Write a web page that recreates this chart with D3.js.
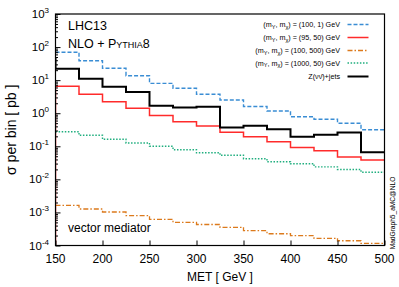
<!DOCTYPE html>
<html><head><meta charset="utf-8">
<script src="https://cdn.jsdelivr.net/npm/d3@7"></script>
<style>
body{margin:0;background:#fff}
svg{display:block}
text{font-family:"Liberation Sans",Arial,Helvetica,sans-serif;fill:#000}
</style>
</head><body>
<svg id="c" width="399" height="287"></svg>
<script>
// ---- data ----
const binEdges = [150,175,200,225,250,275,300,325,350,375,400,425,450,475,500];
const xTickValues = [150,200,250,300,350,400,450,500];
const yTickExponents = [-4,-3,-2,-1,0,1,2,3];
const legendLabels = [
  ["(m", "Y", ", m", "χ", ") = (100, 1) GeV"],
  ["(m", "Y", ", m", "χ", ") = (95, 50) GeV"],
  ["(m", "Y", ", m", "χ", ") = (100, 500) GeV"],
  ["(m", "Y", ", m", "χ", ") = (1000, 50) GeV"],
  ["Z(νν̄)+jets"]
];
const blueVals   = [69.5,38.7,22.8,13.6,8.0,5.66,3.73,2.51,1.60,1.17,0.78,0.655,0.496,0.317];
const redVals    = [6.5,3.76,2.23,1.41,0.853,0.553,0.41,0.267,0.195,0.137,0.092,0.073,0.0474,0.0385];
const orangeVals = [1.64e-3,1.27e-3,1.03e-3,7.96e-4,6.19e-4,5.02e-4,4.31e-4,3.55e-4,2.80e-4,2.27e-4,1.98e-4,1.65e-4,1.39e-4,1.16e-4];
const greenVals  = [0.276,0.215,0.163,0.126,0.0998,0.0788,0.064,0.0534,0.0421,0.0342,0.0297,0.0239,0.0199,0.0164];
const blackVals  = [22.2,11.1,6.3,4.38,1.69,1.49,1.57,0.37,0.416,0.326,0.195,0.224,0.261,0.066];
// value of the bin just below 150 GeV (underflow side of the step), where visible
const blackPrev = 47;
const redPrev = 1e-6;

// ---- layout ----
const svg = d3.select("#c");
const L = 55.5, R = 384.5, T = 14, B = 245.5;
const x = d3.scaleLinear().domain([150,500]).range([L,R]);
const y = d3.scaleLog().domain([1e-4,1e3]).range([B,T]);

svg.append("defs").append("clipPath").attr("id","clip")
  .append("rect").attr("x",L).attr("y",T).attr("width",R-L).attr("height",B-T);

const series = [
  {vals: blueVals,   prev: null,      color:"#3a8dd4", w:1.4, dash:"4,2"},
  {vals: redVals,    prev: redPrev,   color:"#ff2b2b", w:1.5, dash:null},
  {vals: orangeVals, prev: null,      color:"#dc7a1c", w:1.3, dash:"5,2,1.5,2"},
  {vals: greenVals,  prev: null,      color:"#1fae7e", w:1.4, dash:"1.5,1.6"},
  {vals: blackVals,  prev: blackPrev, color:"#000000", w:2.0, dash:null}
];

const line = d3.line().x(d=>x(d[0])).y(d=>y(d[1])).curve(d3.curveStepAfter);
const g = svg.append("g").attr("clip-path","url(#clip)");
series.forEach(s=>{
  const pts = [];
  if (s.prev !== null) pts.push([binEdges[0], s.prev]);
  s.vals.forEach((v,i)=>pts.push([binEdges[i], v]));
  pts.push([binEdges[binEdges.length-1], s.vals[s.vals.length-1]]);
  g.append("path").attr("d", line(pts)).attr("fill","none")
    .attr("stroke", s.color).attr("stroke-width", s.w)
    .attr("stroke-dasharray", s.dash);
});

// ---- axes ----
const yAxis = d3.axisLeft(y).tickValues(yTickExponents.map(e=>Math.pow(10,e)))
  .tickSizeInner(-5).tickSizeOuter(0).tickFormat("");
const yMinor = [];
yTickExponents.slice(0,-1).forEach(e=>{ for(let k=2;k<10;k++) yMinor.push(k*Math.pow(10,e)); });
const yAxisMinor = d3.axisLeft(y).tickValues(yMinor).tickSizeInner(-2.5).tickSizeOuter(0).tickFormat("");
const xAxis = d3.axisBottom(x).tickValues(xTickValues).tickSizeInner(-5).tickSizeOuter(0).tickFormat("");

const ay = svg.append("g").attr("transform",`translate(${L},0)`).call(yAxis);
const aym = svg.append("g").attr("transform",`translate(${L},0)`).call(yAxisMinor);
const ax = svg.append("g").attr("transform",`translate(0,${B})`).call(xAxis);
[ay,aym,ax].forEach(a=>{ a.select(".domain").remove(); a.selectAll("line").attr("stroke","#000").attr("stroke-width",1); });

// frame
svg.append("rect").attr("x",L).attr("y",T).attr("width",R-L).attr("height",B-T)
  .attr("fill","none").attr("stroke","#000").attr("stroke-width",1.2);

// y tick labels
yTickExponents.forEach(e=>{
  const t = svg.append("text").attr("x",49).attr("y",y(Math.pow(10,e))+4)
    .attr("text-anchor","end").style("font-size","11.5px");
  t.append("tspan").text("10");
  t.append("tspan").attr("dy",-5).style("font-size","8px").text(String(e));
});

// x tick labels
xTickValues.forEach(v=>{
  svg.append("text").attr("x",x(v)).attr("y",263).attr("text-anchor","middle")
    .style("font-size","12px").text(v);
});

// axis titles
svg.append("text").attr("x",(L+R)/2).attr("y",281).attr("text-anchor","middle")
  .style("font-size","12px").text("MET [ GeV ]");
svg.append("text").attr("transform",`translate(16,${(T+B)/2}) rotate(-90)`)
  .attr("text-anchor","middle").style("font-size","14px").text("σ per bin [ pb ]");

// annotations
svg.append("text").attr("x",68).attr("y",30).style("font-size","12.5px").text("LHC13");
const nlo = svg.append("text").attr("x",68).attr("y",47.5).style("font-size","12.5px");
nlo.append("tspan").text("NLO + P");
nlo.append("tspan").style("font-size","9px").text("YTHIA");
nlo.append("tspan").text("8");
svg.append("text").attr("x",68).attr("y",232).style("font-size","12px").text("vector mediator");
svg.append("text").attr("transform","translate(394.5,213) rotate(-90)")
  .attr("text-anchor","middle").style("font-size","6.6px").text("MadGraph5_aMC@NLO");

// legend
const legY = [24.5,37.5,50.5,63,76.5];
legendLabels.forEach((parts,i)=>{
  const s = series[i];
  const t = svg.append("text").attr("x",340).attr("y",legY[i]+2.5)
    .attr("text-anchor","end").style("font-size","7.2px");
  if (parts.length===1) { t.text(parts[0]); }
  else {
    t.append("tspan").text(parts[0]);
    t.append("tspan").attr("dy",1.8).style("font-size","5.5px").text(parts[1]);
    t.append("tspan").attr("dy",-1.8).text(parts[2]);
    t.append("tspan").attr("dy",1.8).style("font-size","5.5px").text(parts[3]);
    t.append("tspan").attr("dy",-1.8).text(parts[4]);
  }
  svg.append("line").attr("x1",347.5).attr("x2",368.5).attr("y1",legY[i]).attr("y2",legY[i])
    .attr("stroke",s.color).attr("stroke-width",s.w).attr("stroke-dasharray",s.dash);
});
</script>
</body></html>
